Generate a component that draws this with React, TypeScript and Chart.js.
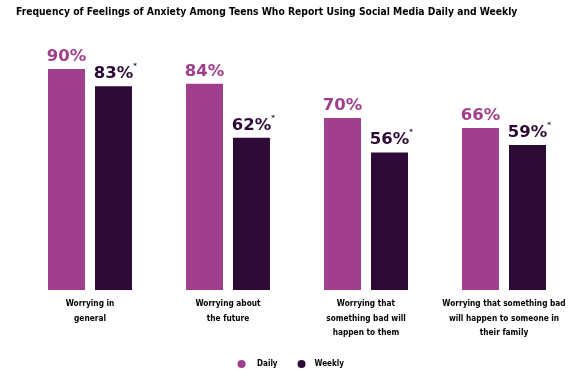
import React, { useEffect, useRef } from "react";
import { Chart, registerables } from "chart.js";

Chart.register(...registerables);

const title = "Frequency of Feelings of Anxiety Among Teens Who Report Using Social Media Daily and Weekly";
const categories: string[][] = [
  ["Worrying in", "general"],
  ["Worrying about", "the future"],
  ["Worrying that", "something bad will", "happen to them"],
  ["Worrying that something bad", "will happen to someone in", "their family"],
];
const dailyValues = [90, 84, 70, 66];
const weeklyValues = [83, 62, 56, 59];
const weeklyStarred = [true, true, true, true];
const seriesNames = ["Daily", "Weekly"];

const DAILY = "#A0408C";
const WEEKLY = "#2E0B36";
const NARROW = "'Liberation Sans Narrow', 'DejaVu Sans Condensed', sans-serif";

// largest font size whose widest text fits in the target width
function fitSize(texts: string[], target: number, max: number, min: number): number {
  const c = document.createElement("canvas").getContext("2d")!;
  for (let s = max; s >= min; s -= 0.25) {
    c.font = `bold ${s}px ${NARROW}`;
    const w = Math.max(...texts.map((t) => c.measureText(t).width));
    if (w <= target) return s;
  }
  return min;
}

const valueLabels = {
  id: "valueLabels",
  afterDatasetsDraw(chart: any) {
    const ctx = chart.ctx;
    ctx.save();
    chart.data.datasets.forEach((ds: any, di: number) => {
      const meta = chart.getDatasetMeta(di);
      meta.data.forEach((el: any, i: number) => {
        const text = ds.data[i] + "%";
        ctx.font = "bold 16.5px 'DejaVu Sans', sans-serif";
        ctx.fillStyle = ds.backgroundColor;
        ctx.textAlign = "center";
        ctx.textBaseline = "alphabetic";
        const y = el.y - 8;
        ctx.fillText(text, el.x, y);
        if (di === 1 && weeklyStarred[i]) {
          const w = ctx.measureText(text).width;
          ctx.font = "bold 7px 'DejaVu Sans', sans-serif";
          ctx.textAlign = "left";
          ctx.fillText("*", el.x + w / 2, y - 10);
        }
      });
    });
    ctx.restore();
  },
};

export default function App() {
  const ref = useRef<HTMLCanvasElement>(null);
  useEffect(() => {
    const titleSize = fitSize([title], 505, 14, 9);
    const tickSize = fitSize(["Worrying that something bad"], 126, 12, 8);
    const legendSize = fitSize(["Weekly"], 28, 12, 8);
    const chart = new Chart(ref.current!, {
      type: "bar",
      data: {
        labels: categories,
        datasets: [
          { label: seriesNames[0], data: dailyValues, backgroundColor: DAILY },
          { label: seriesNames[1], data: weeklyValues, backgroundColor: WEEKLY },
        ],
      },
      options: {
        responsive: false,
        animation: false,
        devicePixelRatio: 1,
        layout: { padding: { left: 16, right: 7, top: 0, bottom: 0 } },
        datasets: {
          bar: { barPercentage: 0.787, categoryPercentage: 0.681 },
        },
        scales: {
          x: {
            grid: { display: false, drawTicks: false },
            border: { display: false },
            ticks: {
              color: "#000",
              font: { family: NARROW, weight: "bold", size: tickSize, lineHeight: 14.3 / tickSize },
              padding: 7,
              maxRotation: 0,
              autoSkip: false,
            },
            afterFit: (s: any) => {
              s.height = 60;
            },
          },
          y: {
            display: true,
            min: 0,
            max: 100,
            grid: { display: false, drawTicks: false },
            border: { display: false },
            ticks: { display: false },
            afterFit: (s: any) => {
              s.width = 5;
            },
          },
        },
        plugins: {
          title: {
            display: true,
            text: title,
            align: "start",
            color: "#000",
            font: { family: NARROW, weight: "bold", size: titleSize, lineHeight: 1.2 },
            padding: { top: 6, bottom: 38.4 - titleSize * 1.2 },
          },
          legend: {
            position: "bottom",
            labels: {
              usePointStyle: true,
              pointStyle: "circle",
              boxWidth: 10,
              boxHeight: 5.66,
              padding: 10,
              color: "#000",
              font: { family: NARROW, weight: "bold", size: legendSize },
              generateLabels: (c: any) => {
                const items = Chart.defaults.plugins.legend.labels.generateLabels(c);
                return items.map((it: any, idx: number) => ({
                  ...it,
                  text: idx === 0 ? "   " + it.text + "    " : "  " + it.text + "   ",
                }));
              },
            },
          },
          tooltip: { enabled: false },
        },
      },
      plugins: [valueLabels],
    });
    return () => chart.destroy();
  }, []);
  return (
    <div style={{ position: "fixed", left: 0, top: 0, width: 580, height: 378, background: "#fff" }}>
      <canvas ref={ref} width={580} height={378} />
    </div>
  );
}
